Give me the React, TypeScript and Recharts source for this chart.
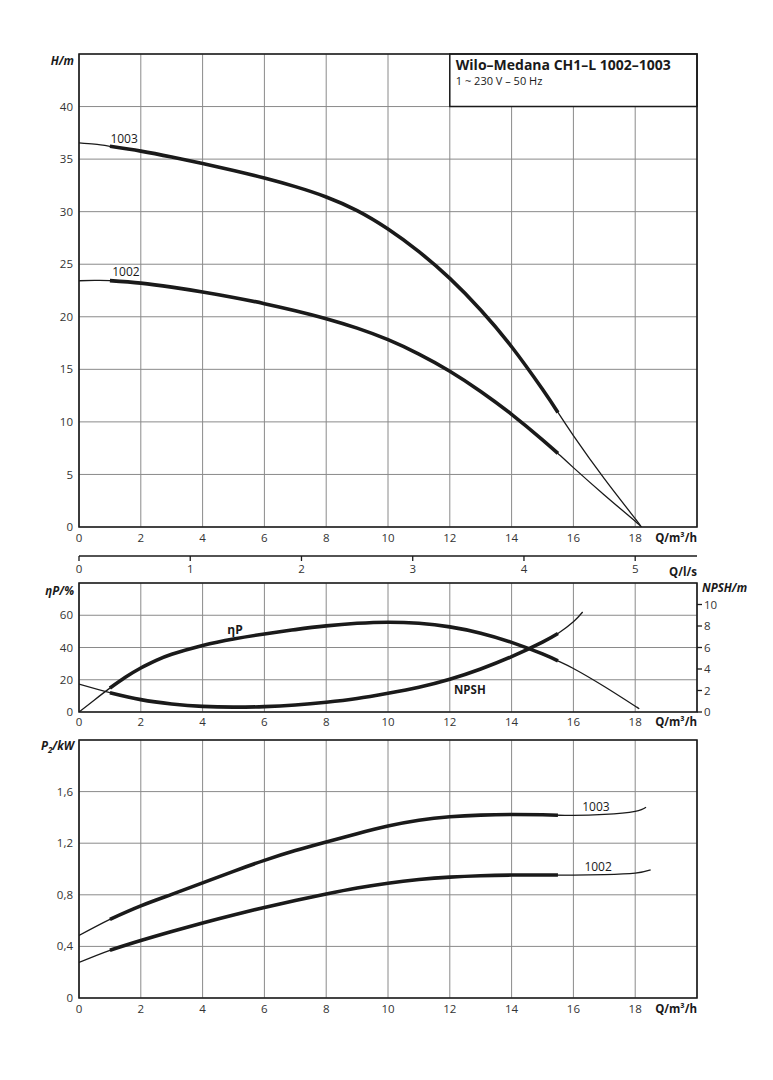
import React from 'react';
import { LineChart, Line, XAxis, YAxis, CartesianGrid, ReferenceArea, ReferenceDot } from 'recharts';

const FONT = "'Open Sans', 'Liberation Sans', sans-serif";
const INK = '#1a1a1a';
const GRID = '#8a8a8a';
const TICK_COLOR = '#333';

// ---------- axis ticks & texts ----------
const qTicks = [0, 2, 4, 6, 8, 10, 12, 14, 16, 18];
const lsTicks = [0, 1, 2, 3, 4, 5];
const hTicks = [0, 5, 10, 15, 20, 25, 30, 35, 40];
const etaTicks = [0, 20, 40, 60, 80];
const etaLabelTicks = [0, 20, 40, 60];
const npshTicks = [0, 2, 4, 6, 8, 10];
const pTicks = [0, 0.4, 0.8, 1.2, 1.6, 2];
const pLabelTicks = [0, 0.4, 0.8, 1.2, 1.6];

const titleText = 'Wilo–Medana CH1–L 1002–1003';
const subtitleText = '1 ~ 230 V – 50 Hz';
const pumpNames = ['1003', '1002'];

// ---------- H(Q) curves ----------
const qH1003 = [0, 0.5, 1, 2, 3, 4, 5, 6, 7, 8, 9, 10, 11, 12, 13, 14, 15, 15.5, 16, 17, 18, 18.2];
const h1003 = [36.55, 36.42, 36.22, 35.76, 35.2, 34.58, 33.92, 33.2, 32.38, 31.4, 30.1, 28.35, 26.2, 23.65, 20.65, 17.15, 13.1, 10.9, 8.7, 4.6, 0.8, 0];

const qH1002 = [0, 0.5, 1, 2, 3, 4, 5, 6, 7, 8, 9, 10, 11, 12, 13, 14, 15, 15.5, 16, 17, 18, 18.2];
const h1002 = [23.43, 23.46, 23.44, 23.2, 22.82, 22.36, 21.84, 21.25, 20.58, 19.82, 18.92, 17.82, 16.45, 14.82, 12.9, 10.72, 8.3, 7.0, 5.65, 3.05, 0.55, 0];

// ---------- efficiency & NPSH ----------
const qEta = [0, 0.5, 1, 1.5, 2, 2.5, 3, 4, 5, 6, 7, 8, 9, 10, 11, 12, 13, 14, 15, 15.5, 16, 17, 18, 18.05];
const eta = [0, 7.5, 14.8, 21.5, 27.3, 32, 35.8, 41.3, 45.3, 48.4, 51.1, 53.4, 55.0, 55.7, 55.0, 52.8, 48.9, 43.2, 36, 31.7, 27, 15.8, 3.6, 3.0];

const qNpsh = [0, 1, 2, 3, 4, 5, 6, 7, 8, 9, 10, 11, 12, 13, 14, 15, 15.5, 16, 16.3];
const npsh = [2.6, 1.8, 1.15, 0.75, 0.52, 0.45, 0.5, 0.65, 0.9, 1.25, 1.74, 2.3, 3.04, 4.0, 5.15, 6.5, 7.3, 8.4, 9.3];

// ---------- P2(Q) curves ----------
const qP1003 = [0, 1, 2, 3, 4, 5, 6, 7, 8, 9, 10, 11, 12, 13, 14, 15, 15.5, 16, 17, 18, 18.35];
const p1003 = [0.485, 0.61, 0.714, 0.803, 0.892, 0.982, 1.067, 1.143, 1.21, 1.274, 1.333, 1.378, 1.405, 1.418, 1.422, 1.42, 1.417, 1.415, 1.423, 1.447, 1.478];

const qP1002 = [0, 1, 2, 3, 4, 5, 6, 7, 8, 9, 10, 11, 12, 13, 14, 15, 15.5, 16, 17, 18, 18.5];
const p1002 = [0.276, 0.37, 0.445, 0.515, 0.582, 0.644, 0.702, 0.756, 0.806, 0.852, 0.89, 0.918, 0.937, 0.948, 0.953, 0.954, 0.953, 0.953, 0.957, 0.968, 0.993];

// thick = recommended operating range
const opMin = 1;
const opMax = 15.5;

type Row = { q: number; v: number };
const zip = (qs: number[], vs: number[]): Row[] => qs.map((q, i) => ({ q, v: vs[i] }));
const thickPart = (rows: Row[]) => rows.filter((r) => r.q >= opMin && r.q <= opMax);

const rowsH1003 = zip(qH1003, h1003);
const rowsH1002 = zip(qH1002, h1002);
const rowsEta = zip(qEta, eta);
const rowsNpsh = zip(qNpsh, npsh);
const rowsP1003 = zip(qP1003, p1003);
const rowsP1002 = zip(qP1002, p1002);
const rowsLs = lsTicks.map((t) => ({ ls: t, v: 0 }));

const W = 773;
const tickStyle = { fontSize: 11.5, fill: TICK_COLOR, fontFamily: FONT };
const CURVE = 'natural' as const;

const thinLine = (key: string, rows: Row[], yAxisId: string | number = 0) => (
  <Line
    key={key + '-thin'}
    data={rows}
    dataKey="v"
    yAxisId={yAxisId}
    type={CURVE}
    dot={false}
    activeDot={false}
    stroke={INK}
    strokeWidth={1.3}
    isAnimationActive={false}
  />
);
const thickLine = (key: string, rows: Row[], yAxisId: string | number = 0) => (
  <Line
    key={key + '-thick'}
    data={thickPart(rows)}
    dataKey="v"
    yAxisId={yAxisId}
    type={CURVE}
    dot={false}
    activeDot={false}
    stroke={INK}
    strokeWidth={3.6}
    strokeLinecap="butt"
    isAnimationActive={false}
  />
);

const textLabel = (text: string, size = 12, weight: any = 'normal') => (props: any) => {
  const vb = props.viewBox || {};
  return (
    <text x={vb.x} y={vb.y} textAnchor="middle" dominantBaseline="central" fontSize={size} fontWeight={weight} fontFamily={FONT} fill={INK}>
      {text}
    </text>
  );
};

const titleLabel = (props: any) => {
  const vb = props.viewBox || {};
  return (
    <g>
      <text x={vb.x + 6} y={vb.y + 16} fontSize={14} fontWeight="bold" fontFamily={FONT} fill={INK}>
        {titleText}
      </text>
      <text x={vb.x + 6} y={vb.y + 31} fontSize={11} fontFamily={FONT} fill={INK}>
        {subtitleText}
      </text>
    </g>
  );
};

const pFmt = (v: number) => (v === 0 ? '0' : v.toFixed(1).replace('.', ','));

function TopChart() {
  return (
    <LineChart width={W} height={580} margin={{ top: 54, right: 76, bottom: 0, left: 0 }}>
      <CartesianGrid stroke={GRID} strokeWidth={1} />
      <XAxis
        type="number"
        dataKey="q"
        domain={[0, 20]}
        ticks={qTicks}
        height={29}
        tick={tickStyle}
        tickLine={false}
        axisLine={false}
        tickSize={4}
        tickMargin={3}
        allowDataOverflow
      />
      <XAxis
        xAxisId="ls"
        type="number"
        dataKey="ls"
        domain={[0, 20 / 3.6]}
        ticks={lsTicks}
        height={24}
        tick={tickStyle}
        tickLine={{ stroke: INK, strokeWidth: 1.3 }}
        axisLine={{ stroke: INK, strokeWidth: 1.5 }}
        tickSize={5}
        tickMargin={4}
        allowDataOverflow
      />
      <YAxis
        type="number"
        domain={[0, 45]}
        ticks={hTicks}
        width={79}
        tick={tickStyle}
        tickLine={false}
        axisLine={false}
        tickSize={4}
        tickMargin={2}
        allowDataOverflow
      />
      <Line xAxisId="ls" data={rowsLs} dataKey="v" stroke="none" dot={false} activeDot={false} isAnimationActive={false} />
      <ReferenceArea x1={12} x2={20} y1={40} y2={45} fill="#fff" fillOpacity={1} stroke={INK} strokeWidth={1.5} label={titleLabel} />
      <ReferenceArea x1={0} x2={20} y1={0} y2={45} fill="none" stroke={INK} strokeWidth={1.6} />
      {thinLine('h1003', rowsH1003)}
      {thickLine('h1003', rowsH1003)}
      {thinLine('h1002', rowsH1002)}
      {thickLine('h1002', rowsH1002)}
      <ReferenceDot x={1.46} y={37.0} r={0} label={textLabel(pumpNames[0])} />
      <ReferenceDot x={1.52} y={24.3} r={0} label={textLabel(pumpNames[1])} />
    </LineChart>
  );
}

function MidChart() {
  return (
    <LineChart width={W} height={160} margin={{ top: 3, right: 16, bottom: 0, left: 0 }}>
      <CartesianGrid stroke={GRID} strokeWidth={1} yAxisId="eta" />
      <XAxis
        type="number"
        dataKey="q"
        domain={[0, 20]}
        ticks={qTicks}
        height={28}
        tick={tickStyle}
        tickLine={false}
        axisLine={false}
        tickSize={4}
        tickMargin={2}
        allowDataOverflow
      />
      <YAxis
        yAxisId="eta"
        type="number"
        domain={[0, 80]}
        ticks={etaTicks}
        tickFormatter={(v: number) => (etaLabelTicks.includes(v) ? String(v) : '')}
        width={79}
        tick={tickStyle}
        tickLine={false}
        axisLine={false}
        tickSize={4}
        tickMargin={2}
        allowDataOverflow
      />
      <YAxis
        yAxisId="npsh"
        orientation="right"
        type="number"
        domain={[0, 12]}
        ticks={npshTicks}
        width={60}
        tick={tickStyle}
        tickLine={{ stroke: INK, strokeWidth: 1.3 }}
        axisLine={false}
        tickSize={5}
        tickMargin={2}
        allowDataOverflow
      />
      <ReferenceArea yAxisId="eta" x1={0} x2={20} y1={0} y2={80} fill="none" stroke={INK} strokeWidth={1.6} />
      {thinLine('eta', rowsEta, 'eta')}
      {thickLine('eta', rowsEta, 'eta')}
      {thinLine('npsh', rowsNpsh, 'npsh')}
      {thickLine('npsh', rowsNpsh, 'npsh')}
      <ReferenceDot yAxisId="eta" x={5.05} y={51} r={0} label={textLabel('ηP', 12, 'bold')} />
      <ReferenceDot yAxisId="eta" x={12.65} y={13.7} r={0} label={textLabel('NPSH', 11.5, 'bold')} />
    </LineChart>
  );
}

function BottomChart() {
  return (
    <LineChart width={W} height={285} margin={{ top: 5, right: 76, bottom: 0, left: 0 }}>
      <CartesianGrid stroke={GRID} strokeWidth={1} />
      <XAxis
        type="number"
        dataKey="q"
        domain={[0, 20]}
        ticks={qTicks}
        height={22}
        tick={tickStyle}
        tickLine={false}
        axisLine={false}
        tickSize={4}
        tickMargin={3}
        allowDataOverflow
      />
      <YAxis
        type="number"
        domain={[0, 2]}
        ticks={pTicks}
        tickFormatter={(v: number) => (pLabelTicks.includes(v) ? pFmt(v) : '')}
        width={79}
        tick={tickStyle}
        tickLine={false}
        axisLine={false}
        tickSize={4}
        tickMargin={2}
        allowDataOverflow
      />
      <ReferenceArea x1={0} x2={20} y1={0} y2={2} fill="none" stroke={INK} strokeWidth={1.6} />
      {thinLine('p1003', rowsP1003)}
      {thickLine('p1003', rowsP1003)}
      {thinLine('p1002', rowsP1002)}
      {thickLine('p1002', rowsP1002)}
      <ReferenceDot x={16.73} y={1.483} r={0} label={textLabel(pumpNames[0])} />
      <ReferenceDot x={16.8} y={1.016} r={0} label={textLabel(pumpNames[1])} />
    </LineChart>
  );
}

function UnitLabels() {
  const s = { fontFamily: FONT, fontSize: 11.5, fontWeight: 'bold' as const, fill: INK };
  return (
    <svg width={W} height={1080} style={{ position: 'absolute', left: 0, top: 0, pointerEvents: 'none' }}>
      <text x={74} y={65} textAnchor="end" {...s} fontStyle="italic">H/m</text>
      <text x={697} y={542} textAnchor="end" {...s}>Q/m³/h</text>
      <text x={697} y={576} textAnchor="end" {...s}>Q/l/s</text>
      <text x={74} y={595} textAnchor="end" {...s} fontStyle="italic">ηP/%</text>
      <text x={702} y={592} textAnchor="start" {...s} fontStyle="italic">NPSH/m</text>
      <text x={697} y={726} textAnchor="end" {...s}>Q/m³/h</text>
      <text x={74} y={750} textAnchor="end" {...s} fontStyle="italic">
        P<tspan fontSize={8} dy={3}>2</tspan><tspan dy={-3}>/kW</tspan>
      </text>
      <text x={697} y={1013} textAnchor="end" {...s}>Q/m³/h</text>
    </svg>
  );
}

export default function App() {
  return (
    <div style={{ position: 'absolute', left: 0, top: 0, width: W, height: 1080, background: '#fff' }}>
      <div style={{ position: 'absolute', left: 0, top: 0 }}>
        <TopChart />
      </div>
      <div style={{ position: 'absolute', left: 0, top: 580 }}>
        <MidChart />
      </div>
      <div style={{ position: 'absolute', left: 0, top: 735 }}>
        <BottomChart />
      </div>
      <UnitLabels />
    </div>
  );
}
